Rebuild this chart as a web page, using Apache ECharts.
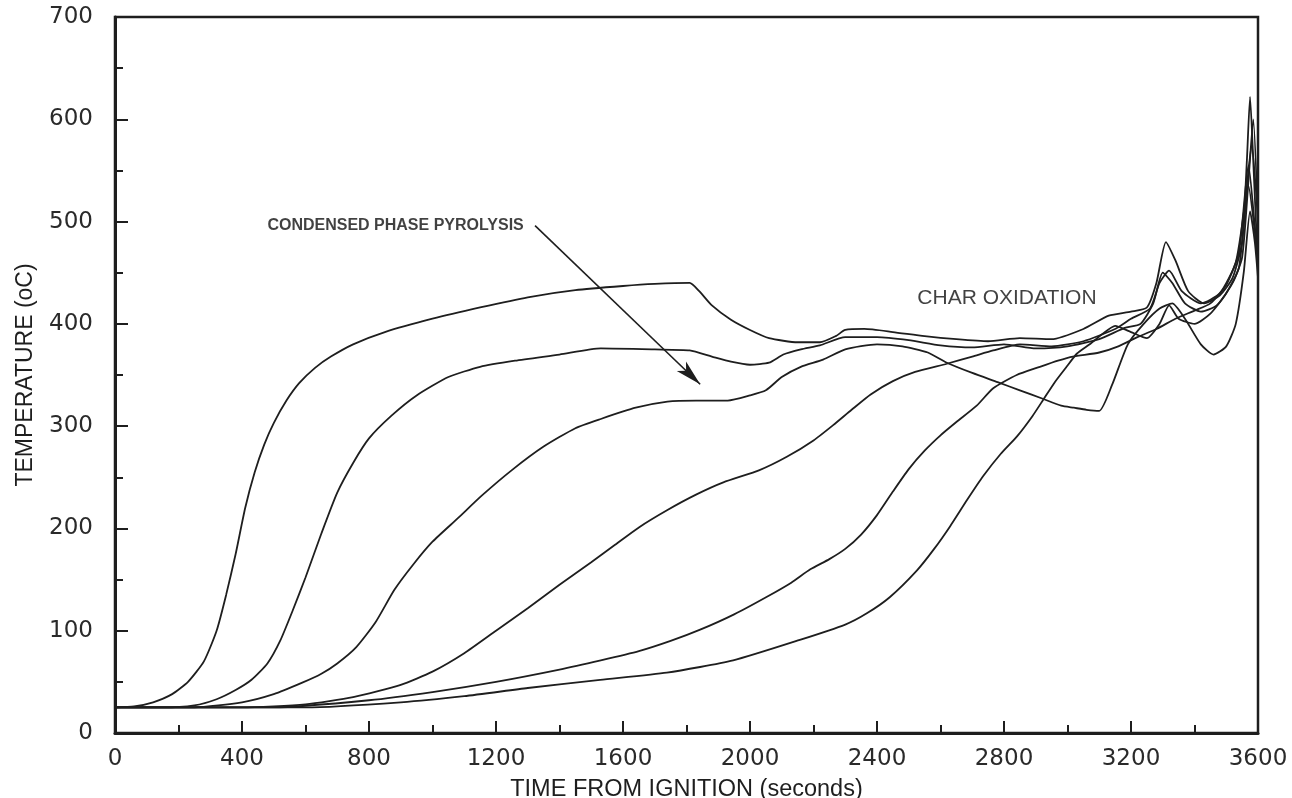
<!DOCTYPE html>
<html>
<head>
<meta charset="utf-8">
<script src="https://cdn.jsdelivr.net/npm/echarts@6/dist/echarts.min.js"></script>
<style>
  html, body { margin: 0; padding: 0; background: #ffffff; }
  #chart { width: 1292px; height: 798px; }
</style>
</head>
<body>
<div id="chart"></div>
<script>
// Thermocouple traces: temperature vs. time from ignition, one trace per depth
const xTicks = [0, 400, 800, 1200, 1600, 2000, 2400, 2800, 3200, 3600];
const yTicks = [0, 100, 200, 300, 400, 500, 600, 700];

const time1 = [0,60,120,180,230,280,320,350,380,410,440,470,500,540,580,630,680,750,850,1000,1150,1300,1450,1600,1700,1810,1840,1880,1940,2000,2060,2150,2220,2270,2300,2360,2450,2550,2650,2750,2850,2950,3050,3130,3200,3250,3280,3310,3340,3380,3430,3480,3520,3550,3565,3575,3585,3595,3600];
const temp1 = [25,26,30,38,50,70,100,135,175,220,255,282,303,325,342,357,368,380,392,405,416,426,433,437,439,440,432,418,404,394,386,382,382,388,394,395,392,388,385,383,386,385,395,408,412,416,440,480,462,432,420,428,445,480,560,622,560,490,470];

const time2 = [0,150,250,320,380,430,480,520,560,600,650,700,750,800,870,950,1050,1150,1260,1400,1530,1700,1810,1880,1940,2000,2060,2105,2160,2220,2300,2400,2500,2600,2700,2800,2900,3000,3100,3180,3230,3270,3300,3330,3370,3420,3470,3520,3550,3570,3585,3600];
const temp2 = [25,25,27,33,42,52,68,90,120,152,195,235,264,288,310,330,348,358,364,370,376,375,374,368,363,360,362,370,375,379,387,387,384,379,377,380,376,378,385,396,400,420,450,440,420,412,418,440,465,540,600,500];

const time3 = [0,250,400,500,588,650,700,760,820,880,940,1000,1080,1155,1250,1350,1450,1530,1640,1740,1830,1930,2000,2050,2100,2160,2230,2300,2400,2480,2560,2620,2700,2780,2850,2920,2980,3020,3060,3100,3140,3190,3240,3290,3330,3370,3420,3460,3500,3530,3555,3575,3590,3600];
const temp3 = [25,25,30,38,49,58,68,84,108,140,165,187,210,232,257,280,298,307,318,324,325,325,330,335,348,358,365,375,380,378,372,362,352,343,335,327,320,318,316,315,340,380,400,415,420,405,380,370,378,400,450,510,480,445];

const time4 = [0,400,600,750,900,1000,1100,1200,1300,1400,1500,1575,1650,1740,1830,1916,2030,2116,2200,2262,2320,2380,2450,2520,2620,2700,2766,2850,2950,3050,3150,3200,3260,3290,3320,3360,3420,3480,3530,3560,3580,3600];
const temp4 = [25,25,28,35,47,60,78,100,122,145,167,184,201,218,233,245,257,270,286,301,316,331,344,353,361,368,374,380,378,383,395,405,415,440,452,432,420,430,460,520,575,500];

const time5 = [0,500,800,1000,1200,1400,1530,1650,1750,1843,1950,2052,2130,2190,2250,2300,2350,2400,2450,2500,2550,2600,2650,2714,2766,2840,2913,2970,3017,3100,3160,3220,3280,3340,3400,3450,3500,3540,3570,3590,3600];
const temp5 = [25,25,32,40,50,62,71,80,90,101,116,133,147,160,170,180,194,213,236,258,276,291,304,320,337,350,358,364,368,372,378,387,395,405,413,420,438,470,555,495,460];

const time6 = [0,600,900,1100,1300,1528,1738,1947,2157,2300,2368,2441,2526,2580,2630,2684,2734,2790,2841,2890,2924,2960,2997,3030,3070,3110,3150,3200,3250,3290,3320,3350,3400,3450,3500,3540,3570,3590,3600];
const temp6 = [25,25,30,36,44,52,59,71,91,106,117,133,159,180,202,228,251,273,290,310,326,343,358,371,380,390,398,392,386,400,418,405,400,410,430,455,535,490,455];

// Annotation anchors (time, temperature)
const pyrolysisLabel = { text: 'CONDENSED PHASE PYROLYSIS', at: [480, 496] };
const pyrolysisArrow = { from: [1323, 496], to: [1843, 341] };
const charLabel = { text: 'CHAR OXIDATION', at: [2527, 425] };

const ink = '#1e1e1e';
const traces = [[time1, temp1], [time2, temp2], [time3, temp3], [time4, temp4], [time5, temp5], [time6, temp6]];

const lineSeries = traces.map(([ts, vs], i) => ({
  type: 'line',
  name: 'trace' + (i + 1),
  data: ts.map((t, k) => [t, vs[k]]),
  showSymbol: false,
  smooth: 0.2,
  lineStyle: { color: ink, width: 1.8 },
  z: 3
}));

const plainNumber = v => String(v);

const chart = echarts.init(document.getElementById('chart'));
chart.setOption({
  backgroundColor: '#ffffff',
  animation: false,
  grid: {
    left: 115, right: 34, top: 17, bottom: 65,
    containLabel: false, outerBoundsMode: 'none',
    show: true, borderColor: ink, borderWidth: 2.5
  },
  xAxis: {
    type: 'value', min: xTicks[0], max: xTicks[xTicks.length - 1], interval: 400,
    name: 'TIME FROM IGNITION (seconds)', nameLocation: 'middle', nameGap: 45,
    nameTextStyle: { color: ink, fontFamily: 'Liberation Sans', fontSize: 23.5 },
    axisLine: { lineStyle: { color: ink, width: 3 } },
    axisTick: { inside: true, length: 12, lineStyle: { color: ink, width: 2 } },
    minorTick: { show: true, splitNumber: 2, length: 8, lineStyle: { color: ink, width: 2 } },
    splitLine: { show: false },
    axisLabel: { color: '#2a2a2a', fontFamily: 'DejaVu Sans', fontSize: 23, margin: 15, formatter: plainNumber }
  },
  yAxis: {
    type: 'value', min: yTicks[0], max: yTicks[yTicks.length - 1], interval: 100,
    name: 'TEMPERATURE (oC)', nameLocation: 'middle', nameGap: 78,
    nameTextStyle: { color: ink, fontFamily: 'Liberation Sans', fontSize: 23 },
    axisLine: { lineStyle: { color: ink, width: 3 } },
    axisTick: { inside: true, length: 13, lineStyle: { color: ink, width: 2 } },
    minorTick: { show: true, splitNumber: 2, length: 8, lineStyle: { color: ink, width: 2 } },
    splitLine: { show: false },
    axisLabel: { color: '#2a2a2a', fontFamily: 'DejaVu Sans', fontSize: 23, margin: 22, formatter: plainNumber }
  },
  series: lineSeries.concat([
    {
      type: 'scatter',
      name: 'notes',
      symbolSize: 0,
      silent: true,
      data: [
        { value: pyrolysisLabel.at, label: { formatter: pyrolysisLabel.text, fontSize: 16, fontWeight: 'bold', fontFamily: 'Liberation Sans Narrow, Liberation Sans', letterSpacing: -0.4 } },
        { value: charLabel.at, label: { formatter: charLabel.text, fontSize: 21, fontFamily: 'Liberation Sans' } }
      ],
      label: { show: true, position: 'right', distance: 0, color: '#111111' },
      markLine: {
        silent: true,
        symbol: ['none', 'arrow'],
        symbolSize: [10, 26],
        label: { show: false },
        lineStyle: { color: ink, width: 1.6, type: 'solid' },
        data: [[{ coord: pyrolysisArrow.from }, { coord: pyrolysisArrow.to }]]
      }
    }
  ])
});
</script>
</body>
</html>
